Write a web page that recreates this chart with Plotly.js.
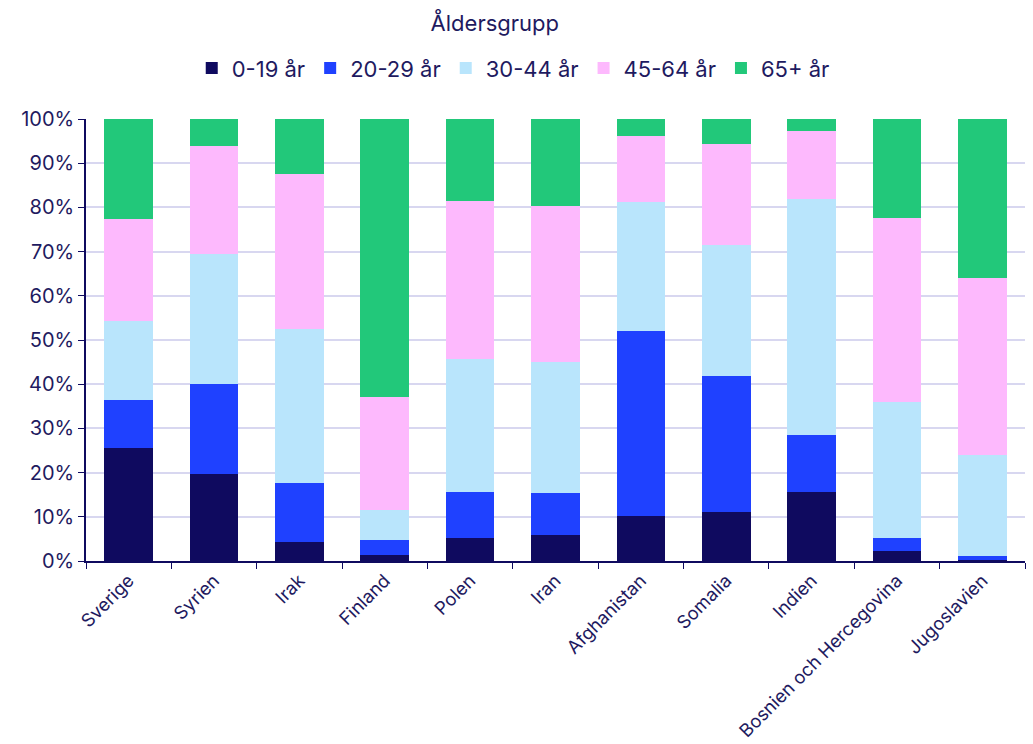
<!DOCTYPE html>
<html>
<head>
<meta charset="utf-8">
<script src="https://cdn.plot.ly/plotly-3.0.1.min.js"></script>
<style>html,body{margin:0;padding:0;background:#fff;}#chart{width:1033px;height:744px;}</style>
</head>
<body>
<div id="chart"></div>
<script>
const countries = ["Sverige","Syrien","Irak","Finland","Polen","Iran","Afghanistan","Somalia","Indien","Bosnien och Hercegovina","Jugoslavien"];
const seriesNames = ["0-19 år","20-29 år","30-44 år","45-64 år","65+ år"];
const age0_19  = [25.5, 19.7, 4.4, 1.4, 5.1, 5.8, 10.1, 11.1, 15.6, 2.2, 0.3];
const age20_29 = [10.9, 20.3, 13.3, 3.4, 10.5, 9.6, 42.0, 30.7, 12.8, 3.1, 0.8];
const age30_44 = [17.9, 29.4, 34.9, 6.7, 30.2, 29.6, 29.1, 29.7, 53.5, 30.6, 22.9];
const age45_64 = [23.0, 24.6, 34.9, 25.5, 35.6, 35.3, 15.0, 22.9, 15.4, 41.7, 40.0];
const age65    = [22.7, 6.0, 12.5, 63.0, 18.6, 19.7, 3.8, 5.6, 2.7, 22.4, 36.0];
const yTicks = [0,10,20,30,40,50,60,70,80,90,100];

const colors = ["#0f0a5f","#1f41ff","#b9e5fc","#fdb9fd","#22c87a"];
const allSeries = [age0_19, age20_29, age30_44, age45_64, age65];
const textColor = "#1e1a60";
const font = "Inter, 'Noto Sans', sans-serif";

const traces = allSeries.map((vals, i) => ({
  type: "bar",
  name: seriesNames[i],
  x: countries,
  y: vals,
  marker: {color: colors[i], line: {width: 0}},
  hovertemplate: "%{x}: %{y}%<extra>" + seriesNames[i] + "</extra>"
}));

const layout = {
  width: 1033, height: 744,
  barmode: "stack",
  bargap: 0.43,
  paper_bgcolor: "#ffffff",
  plot_bgcolor: "#ffffff",
  font: {family: font, color: textColor, size: 20},
  margin: {l: 86, r: 8, t: 119, b: 183},
  title: {text: "Åldersgrupp", x: 0.479, xanchor: "center", y: 0.969, yanchor: "middle", yref: "container", font: {size: 22, color: textColor, family: font}},
  showlegend: true,
  legend: {orientation: "h", x: 0.455, xanchor: "center", xref: "paper", y: 1.115, yanchor: "middle", font: {size: 22, color: textColor}, itemwidth: 30, traceorder: "normal"},
  xaxis: {
    tickangle: -45,
    showline: true, linecolor: "#0f0a5f", linewidth: 1.5,
    ticks: "outside", ticklen: 6, tickcolor: "#0f0a5f", tickson: "boundaries",
    showgrid: false,
    tickfont: {size: 18.3, color: textColor}
  },
  yaxis: {
    range: [0, 100],
    tickvals: yTicks,
    ticktext: yTicks.map(v => v + "%"),
    showline: true, linecolor: "#0f0a5f", linewidth: 1.5,
    ticks: "outside", ticklen: 6, tickcolor: "#0f0a5f",
    showgrid: true, gridcolor: "#d8d7f0", gridwidth: 1.5,
    zeroline: false,
    tickfont: {size: 20, color: textColor}
  }
};

Plotly.newPlot("chart", traces, layout, {displayModeBar: false, responsive: false});
</script>
</body>
</html>
